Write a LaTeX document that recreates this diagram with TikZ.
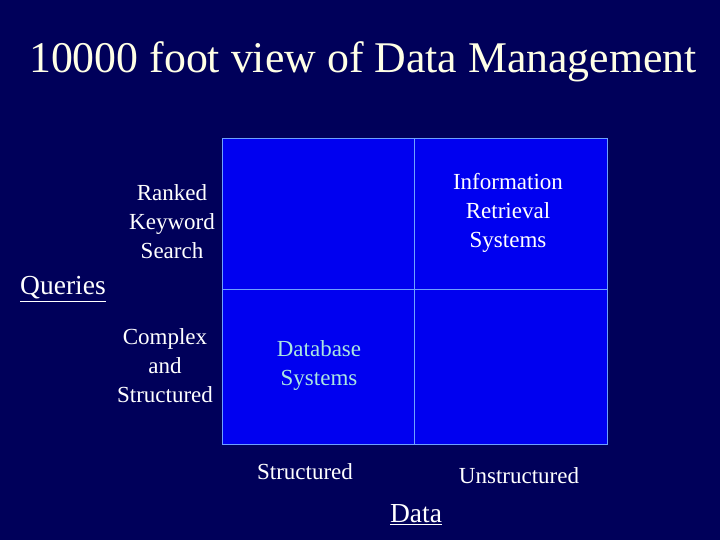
\documentclass[tikz,border=0pt]{standalone}
\usepackage{fontspec}
\setmainfont{Liberation Serif}
\definecolor{navy}{RGB}{0,0,90}
\definecolor{cellblue}{RGB}{0,0,240}
\definecolor{gridline}{RGB}{110,160,255}
\definecolor{cyantext}{RGB}{170,230,225}
\begin{document}
\begin{tikzpicture}[x=1pt,y=-1pt,
  lbl/.style={text=white,font=\fontsize{23}{29}\selectfont,align=center,inner sep=0},
  cell/.style={fill=cellblue,draw=gridline,line width=0.8pt}]
\fill[navy] (0,0) rectangle (720,540);
\useasboundingbox (0,0) rectangle (720,540);
\node[text={rgb,255:red,255;green,255;blue,230},font=\fontsize{43.8}{50}\selectfont,inner sep=0] (title) at (363,62) {10000 foot view of Data Management};
\path[cell] (222,138) rectangle (414,289);
\path[cell] (414,138) rectangle (607,289);
\path[cell] (222,289) rectangle (414,444);
\path[cell] (414,289) rectangle (607,444);
\node[lbl] (rk) at (172,222) {Ranked\\Keyword\\Search};
\node[lbl] (ir) at (508,213) {Information\\Retrieval\\Systems};
\node[lbl] (cs) at (165,366) {Complex\\and\\Structured};
\node[lbl,text=cyantext] (db) at (319,366) {Database\\Systems};
\node[lbl] (st) at (305,472) {Structured};
\node[lbl] (un) at (519,476) {Unstructured};
\node[lbl,font=\fontsize{27.5}{30}\selectfont] (q) at (63,289) {\underline{Queries}};
\node[lbl,font=\fontsize{27.5}{30}\selectfont] (d) at (416,515) {\underline{Data}};
\end{tikzpicture}
\end{document}
